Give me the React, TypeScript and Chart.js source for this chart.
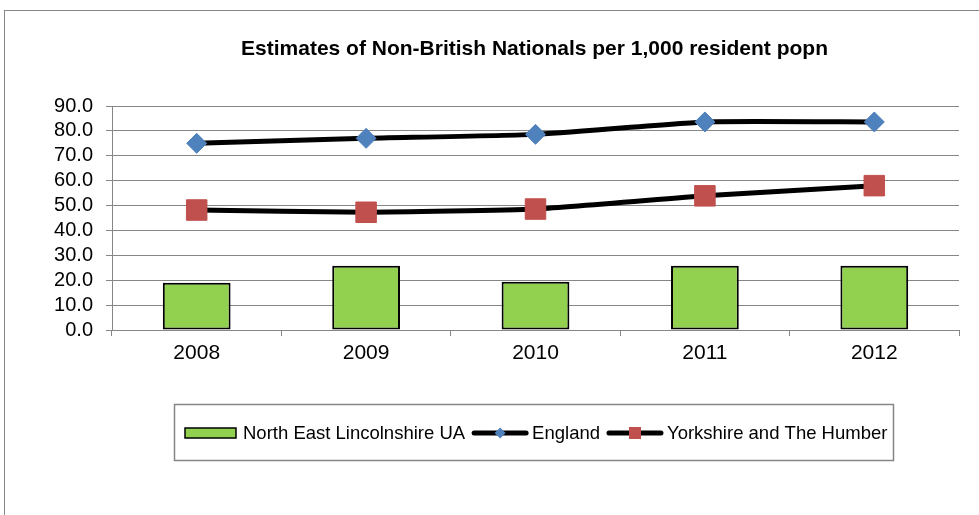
import React, { useEffect, useRef } from "react";
import { Chart, registerables } from "chart.js";

Chart.register(...registerables);

const categories = ["2008", "2009", "2010", "2011", "2012"];
const northEastLincs = [19.0, 25.8, 19.4, 25.8, 25.8];
const england = [75.0, 77.0, 78.6, 83.6, 83.6];
const yorkshire = [48.2, 47.3, 48.6, 53.9, 58.0];
const yTickMin = 0;
const yTickMax = 90;
const yTickStep = 10;

const titleText = "Estimates of Non-British Nationals per 1,000 resident popn";
const FONT = "'Liberation Sans', Arial, sans-serif";
const GRID = "#868686";

const decorPlugin = {
  id: "decor",
  afterDraw(chart: any) {
    const ctx = chart.ctx as CanvasRenderingContext2D;
    const ca = chart.chartArea;
    ctx.save();
    // outer frame
    ctx.strokeStyle = GRID;
    ctx.lineWidth = 1;
    ctx.strokeRect(4.5, 10.5, 1100, 700);

    // title
    ctx.fillStyle = "#000";
    ctx.font = `bold 21px ${FONT}`;
    ctx.textAlign = "center";
    ctx.textBaseline = "middle";
    ctx.fillText(titleText, (ca.left + ca.right) / 2 - 1, 49);

    // legend box
    ctx.strokeStyle = GRID;
    ctx.lineWidth = 1.5;
    ctx.strokeRect(174.5, 404.5, 719, 56);

    const ds = chart.data.datasets;
    const cy = 433;
    ctx.font = `18.5px ${FONT}`;
    ctx.textAlign = "left";
    ctx.textBaseline = "middle";
    let x = 185;
    // bar swatch
    ctx.fillStyle = ds[0].backgroundColor;
    ctx.fillRect(x, cy - 5, 51, 10);
    ctx.strokeStyle = "#000";
    ctx.lineWidth = 1.5;
    ctx.strokeRect(x, cy - 5, 51, 10);
    x += 51 + 7;
    ctx.fillStyle = "#000";
    ctx.fillText(ds[0].label, x, cy + 1);
    x += ctx.measureText(ds[0].label).width + 7;

    const drawLineItem = (d: any, square: boolean) => {
      ctx.strokeStyle = d.borderColor;
      ctx.lineWidth = 5;
      ctx.lineCap = "round";
      ctx.beginPath();
      ctx.moveTo(x + 2, cy);
      ctx.lineTo(x + 54, cy);
      ctx.stroke();
      const mx = x + 28;
      ctx.fillStyle = d.pointBackgroundColor;
      if (square) {
        ctx.fillRect(mx - 6, cy - 6, 12, 12);
      } else {
        ctx.beginPath();
        ctx.moveTo(mx, cy - 5.5);
        ctx.lineTo(mx + 5.5, cy);
        ctx.lineTo(mx, cy + 5.5);
        ctx.lineTo(mx - 5.5, cy);
        ctx.closePath();
        ctx.fill();
      }
      x += 56 + 4;
      ctx.fillStyle = "#000";
      ctx.fillText(d.label, x, cy + 1);
      x += ctx.measureText(d.label).width + 7;
    };
    drawLineItem(ds[1], false);
    drawLineItem(ds[2], true);
    ctx.restore();
  },
};

export default function App() {
  const ref = useRef<HTMLCanvasElement | null>(null);
  useEffect(() => {
    if (!ref.current) return;
    const chart = new Chart(ref.current, {
      type: "bar",
      data: {
        labels: categories,
        datasets: [
          {
            type: "bar",
            label: "North East Lincolnshire UA",
            data: northEastLincs,
            backgroundColor: "#92D050",
            borderColor: "#000",
            borderWidth: 2,
            borderSkipped: false,
            barPercentage: 0.4,
            categoryPercentage: 1,
            order: 3,
          } as any,
          {
            type: "line",
            label: "England",
            data: england,
            borderColor: "#000",
            borderWidth: 5,
            tension: 0.15,
            pointStyle: "rectRot",
            pointRadius: 10,
            pointBackgroundColor: "#4F81BD",
            pointBorderColor: "#4F81BD",
            pointBorderWidth: 1,
            order: 1,
          } as any,
          {
            type: "line",
            label: "Yorkshire and The Humber",
            data: yorkshire,
            borderColor: "#000",
            borderWidth: 5,
            tension: 0.15,
            pointStyle: "rect",
            pointRadius: 14.5,
            pointBackgroundColor: "#C0504D",
            pointBorderColor: "#C0504D",
            pointBorderWidth: 1,
            order: 2,
          } as any,
        ],
      },
      options: {
        animation: false,
        responsive: false,
        devicePixelRatio: 1,
        layout: { padding: { left: 0, right: 20, top: 106, bottom: 145 } },
        plugins: {
          legend: { display: false },
          title: { display: false },
          tooltip: { enabled: false },
        },
        scales: {
          x: {
            grid: {
              offset: true,
              drawOnChartArea: false,
              drawTicks: true,
              tickLength: 6,
              color: GRID,
            },
            border: { color: GRID, width: 1 },
            ticks: {
              color: "#000",
              font: { family: FONT, size: 21 },
              padding: 5,
            },
            afterFit: (s: any) => {
              s.height = 40;
            },
          },
          y: {
            min: yTickMin,
            max: yTickMax,
            grid: { color: GRID, tickLength: 6, drawTicks: true },
            border: { color: GRID, width: 1 },
            ticks: {
              stepSize: yTickStep,
              autoSkip: false,
              color: "#000",
              font: { family: FONT, size: 20 },
              padding: 13,
              callback: (v: any) => Number(v).toFixed(1),
            },
            afterFit: (s: any) => {
              s.width = 112;
            },
          },
        },
      } as any,
      plugins: [decorPlugin],
    });
    return () => chart.destroy();
  }, []);
  return (
    <div style={{ position: "fixed", left: 0, top: 0, width: 979, height: 515, background: "#fff" }}>
      <canvas ref={ref} width={979} height={515} style={{ display: "block" }} />
    </div>
  );
}
